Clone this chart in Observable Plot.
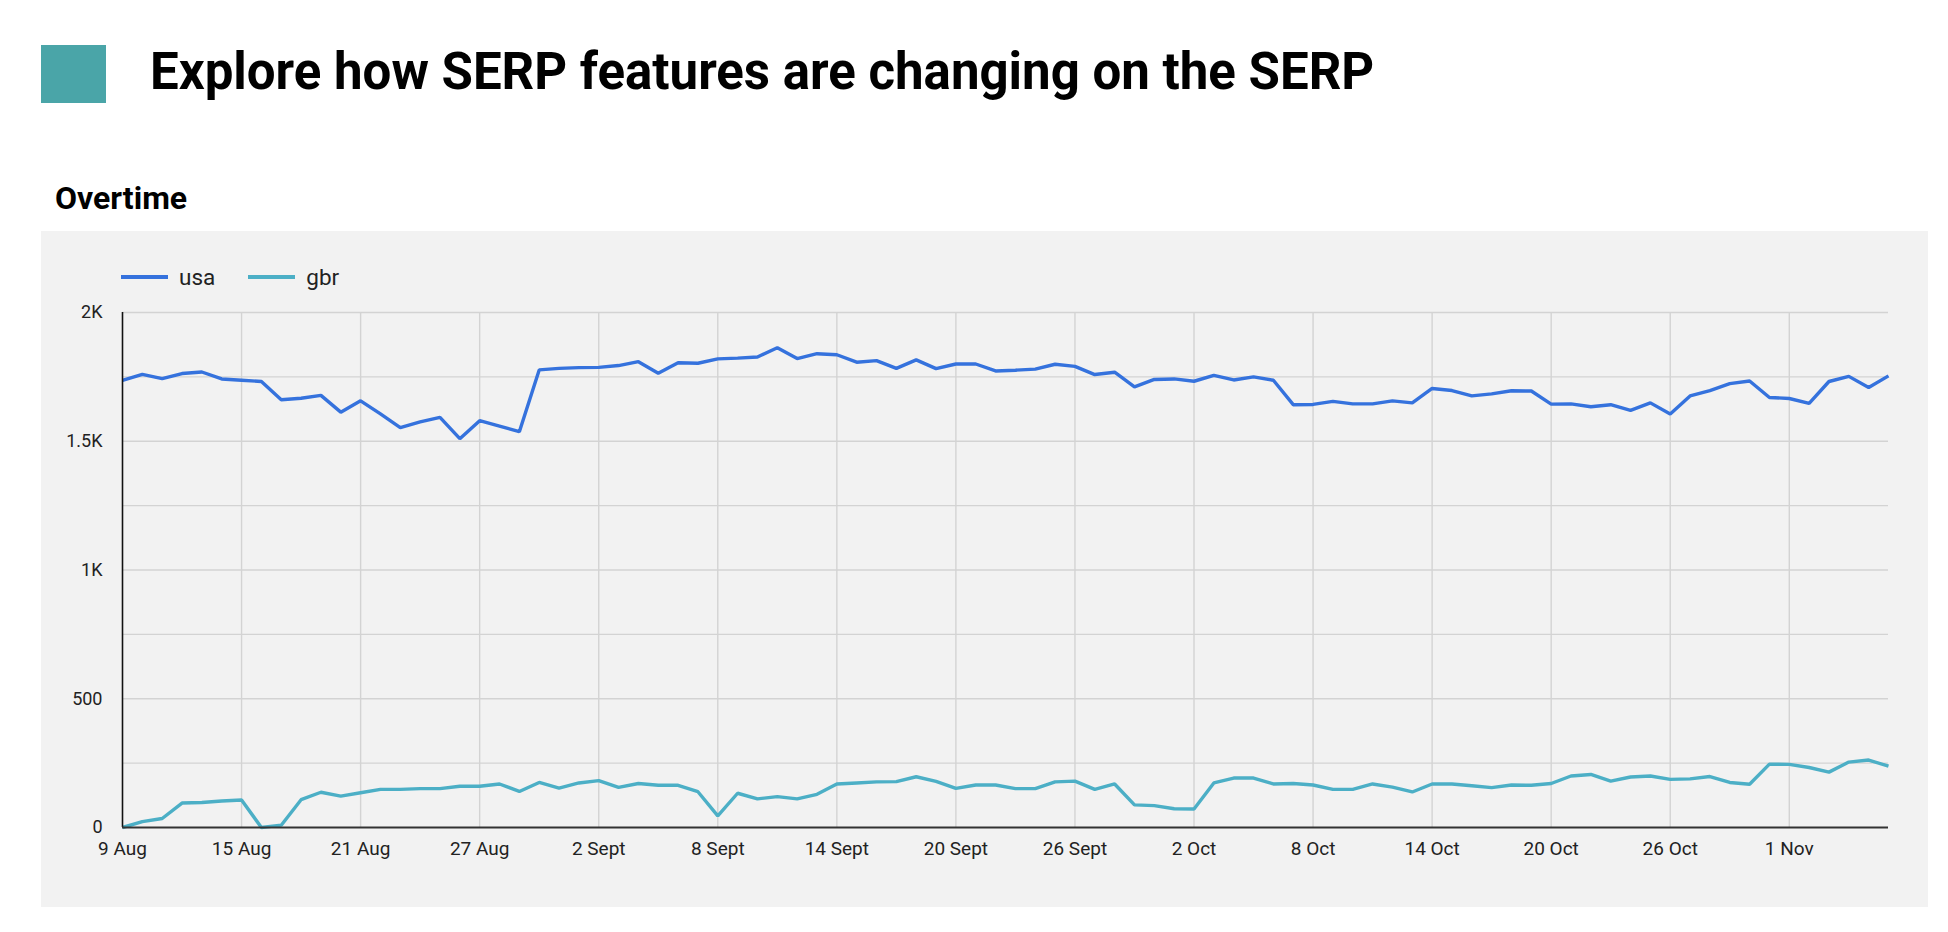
<!DOCTYPE html>
<html>
<head>
<meta charset="utf-8">
<script src="https://cdn.jsdelivr.net/npm/d3@7"></script>
<script src="https://cdn.jsdelivr.net/npm/@observablehq/plot@0.6"></script>
<style>
  html, body { margin: 0; padding: 0; background: #fff; }
  body { width: 1948px; height: 932px; position: relative; font-family: Roboto, "Noto Sans", sans-serif; overflow: hidden; }
  #badge { position: absolute; left: 41px; top: 45px; width: 65px; height: 58px; background: #4aa5a8; }
  #title { position: absolute; left: 150px; top: 46px; margin: 0; font: 700 51px/1 Roboto, sans-serif; color: #000; white-space: nowrap; }
  #subtitle { position: absolute; left: 55px; top: 182px; margin: 0; font: 700 32px/1 Roboto, sans-serif; color: #000; white-space: nowrap; }
  #panel { position: absolute; left: 41px; top: 231px; width: 1887px; height: 676px; background: #f2f2f2; }
  #legend { position: absolute; left: 80px; top: 31px; height: 30px; display: flex; align-items: center; font: 400 22.5px/1 Roboto, sans-serif; color: #222; }
  .item { display: flex; align-items: center; margin-right: 33px; }
  .swatch { width: 47px; height: 3.5px; margin-right: 11px; }
  #chart { position: absolute; left: 0; top: 70px; }
</style>
</head>
<body>
<div id="badge"></div>
<h1 id="title">Explore how SERP features are changing on the SERP</h1>
<h2 id="subtitle">Overtime</h2>
<div id="panel">
  <div id="legend"></div>
  <div id="chart"></div>
</div>
<script>
const seriesNames = ["usa", "gbr"];
const seriesColors = ["#3572dd", "#4cafc6"];
const startDate = "2023-08-09";

const usa = [1736,1760,1743,1763,1769,1742,1737,1732,1661,1667,
  1678,1613,1657,1606,1553,1575,1593,1510,1580,1559,
  1537,1777,1783,1786,1787,1794,1809,1764,1805,1803,
  1820,1823,1827,1863,1821,1840,1836,1807,1813,1783,
  1816,1782,1800,1800,1773,1776,1780,1799,1791,1759,
  1768,1711,1740,1742,1733,1756,1738,1750,1737,1642,
  1643,1655,1645,1645,1657,1649,1705,1697,1676,1684,
  1696,1695,1644,1645,1634,1642,1620,1649,1606,1676,
  1697,1724,1734,1670,1666,1647,1732,1752,1709,1754];

const gbr = [0,23,35,95,97,103,107,0,9,108,
  137,122,135,148,148,151,151,160,160,169,
  140,175,153,173,182,156,171,164,164,139,
  45,133,111,120,111,129,169,173,177,178,
  197,179,152,165,165,151,151,177,180,148,
  169,88,85,73,72,173,192,192,169,171,
  165,148,148,169,157,138,169,169,162,155,
  165,164,171,200,206,180,196,200,187,189,
  198,175,168,246,245,233,215,254,262,238];

const xTickDates = ["2023-08-09","2023-08-15","2023-08-21","2023-08-27","2023-09-02","2023-09-08","2023-09-14","2023-09-20","2023-09-26","2023-10-02","2023-10-08","2023-10-14","2023-10-20","2023-10-26","2023-11-01"];
const xTickLabels = ["9 Aug","15 Aug","21 Aug","27 Aug","2 Sept","8 Sept","14 Sept","20 Sept","26 Sept","2 Oct","8 Oct","14 Oct","20 Oct","26 Oct","1 Nov"];
const yTicks = [0, 500, 1000, 1500, 2000];
const yTickLabels = ["0", "500", "1K", "1.5K", "2K"];
const yGrid = [250, 500, 750, 1000, 1250, 1500, 1750, 2000];

// legend
const legend = document.getElementById("legend");
seriesNames.forEach((n, i) => {
  const it = document.createElement("div");
  it.className = "item";
  it.innerHTML = `<span class="swatch" style="background:${seriesColors[i]}"></span><span>${n}</span>`;
  legend.appendChild(it);
});

const start = new Date(startDate + "T00:00:00Z");
const dates = usa.map((_, i) => d3.utcDay.offset(start, i));
const rows = [];
usa.forEach((v, i) => rows.push({date: dates[i], value: v, series: "usa"}));
gbr.forEach((v, i) => rows.push({date: dates[i], value: v, series: "gbr"}));

const tickDates = xTickDates.map(s => new Date(s + "T00:00:00Z"));
const xLabel = new Map(tickDates.map((d, i) => [+d, xTickLabels[i]]));
const yLabel = new Map(yTicks.map((d, i) => [d, yTickLabels[i]]));

const chart = Plot.plot({
  width: 1887,
  height: 606,
  marginLeft: 81,
  marginRight: 40,
  marginTop: 11,
  marginBottom: 80,
  style: {background: "transparent", fontFamily: "Roboto, sans-serif", fontSize: "18px", color: "#222", overflow: "visible"},
  x: {type: "utc", domain: [dates[0], dates[dates.length - 1]], label: null},
  y: {domain: [0, 2000], label: null},
  color: {domain: seriesNames, range: seriesColors},
  marks: [
    Plot.gridY(yGrid, {stroke: "#d3d3d3", strokeOpacity: 1, strokeWidth: 1.4}),
    Plot.gridX(tickDates.slice(1), {stroke: "#d3d3d3", strokeOpacity: 1, strokeWidth: 1.4}),
    Plot.axisY(yTicks, {label: null, tickSize: 0, tickPadding: 20, tickFormat: d => yLabel.get(d), fill: "#222", fontSize: 18}),
    Plot.axisX(tickDates, {label: null, tickSize: 0, tickPadding: 14, tickFormat: d => xLabel.get(+d), fill: "#222", fontSize: 19}),
    Plot.line(rows, {x: "date", y: "value", z: "series", stroke: "series", strokeWidth: 3.4, strokeLinejoin: "miter", strokeLinecap: "butt"}),
    Plot.ruleX([dates[0]], {stroke: "#111", strokeWidth: 1.6}),
    Plot.ruleY([0], {stroke: "#333", strokeWidth: 2.2})
  ]
});
document.getElementById("chart").appendChild(chart);
</script>
</body>
</html>
